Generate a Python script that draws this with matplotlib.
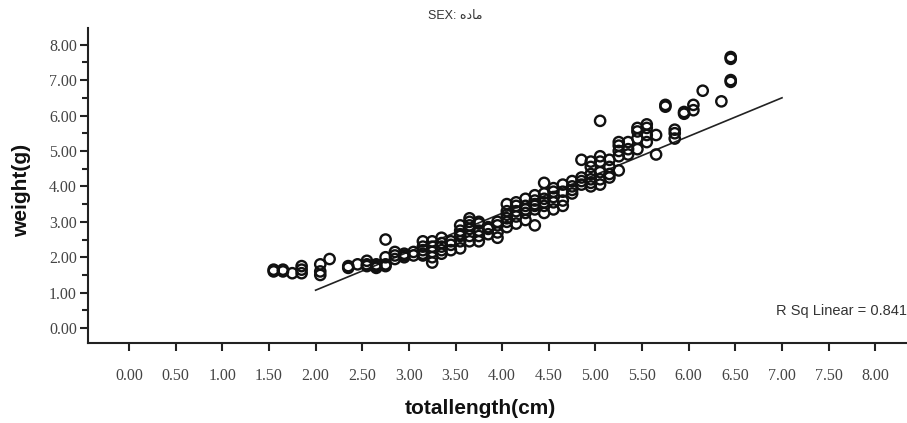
import matplotlib
matplotlib.use("Agg")
import matplotlib.pyplot as plt
import numpy as np

# Scatter data: total length (cm) columns and weights (g)
length_cols = [1.55, 1.65, 1.75, 1.85, 2.05, 2.15, 2.35, 2.45, 2.55, 2.65, 2.75, 2.85, 2.95,
               3.05, 3.15, 3.25, 3.35, 3.45, 3.55, 3.65, 3.75, 3.85, 3.95, 4.05, 4.15, 4.25,
               4.35, 4.45, 4.55, 4.65, 4.75, 4.85, 4.95, 5.05, 5.15, 5.25, 5.35, 5.45, 5.55,
               5.65, 5.75, 5.85, 5.95, 6.05, 6.15, 6.35, 6.45]
weight_cols = [
    [1.60, 1.65], [1.65, 1.60], [1.55], [1.55, 1.65, 1.75], [1.50, 1.60, 1.80], [1.95],
    [1.70, 1.75], [1.80], [1.80, 1.90, 1.75], [1.75, 1.80, 1.70], [2.50, 1.80, 2.00, 1.75],
    [2.05, 2.15, 1.95], [2.05, 2.10, 2.00], [2.05, 2.15], [2.05, 2.45, 2.30, 2.20, 2.10],
    [1.85, 2.00, 2.30, 2.45, 2.15], [2.10, 2.20, 2.30, 2.40, 2.55], [2.35, 2.20, 2.45],
    [2.25, 2.45, 2.60, 2.75, 2.90, 2.65], [2.45, 2.60, 2.80, 3.00, 3.10, 2.90],
    [2.45, 2.60, 2.75, 2.95, 3.00], [2.65, 2.80, 2.85], [2.55, 2.70, 2.90, 3.00],
    [2.85, 3.00, 3.20, 3.30, 3.50, 3.10], [2.95, 3.15, 3.30, 3.45, 3.55],
    [3.05, 3.25, 3.45, 3.35, 3.65], [2.90, 3.35, 3.50, 3.60, 3.75, 3.45],
    [3.25, 3.45, 3.65, 3.80, 4.10, 3.55], [3.35, 3.55, 3.70, 3.85, 3.95],
    [3.45, 3.60, 3.85, 4.05], [3.80, 4.00, 4.15, 3.90], [4.05, 4.25, 4.75, 4.15],
    [4.00, 4.20, 4.35, 4.55, 4.70, 4.10], [4.05, 4.20, 4.40, 4.70, 5.85, 4.85],
    [4.25, 4.35, 4.55, 4.75], [4.45, 4.85, 5.00, 5.15, 5.25], [4.90, 5.05, 5.25],
    [5.05, 5.35, 5.55, 5.65], [5.25, 5.45, 5.65, 5.75], [4.90, 5.45], [6.25, 6.30],
    [5.35, 5.50, 5.60], [6.05, 6.10], [6.15, 6.30], [6.70], [6.40],
    [6.95, 7.00, 7.60, 7.65],
]

# Fit line endpoints
line_x = [2.0, 7.0]
line_y = [1.07, 6.50]
r_sq = "0.841"

x_ticks = [0.0, 0.5, 1.0, 1.5, 2.0, 2.5, 3.0, 3.5, 4.0, 4.5, 5.0, 5.5, 6.0, 6.5, 7.0, 7.5, 8.0]
y_ticks = [0, 1, 2, 3, 4, 5, 6, 7, 8]

xs, ys = [], []
for x, col in zip(length_cols, weight_cols):
    for y in col:
        xs.append(x)
        ys.append(y)

fig = plt.figure(figsize=(9.07, 4.23), dpi=100)
ax = fig.add_axes([88 / 907, 80 / 423, 1 - 88 / 907, (343 - 28) / 423])

ax.scatter(xs, ys, s=55, facecolors="none", edgecolors="#111111", linewidths=1.7, zorder=3)
ax.plot(line_x, line_y, color="#222222", lw=1.2, zorder=2)

ax.set_xlim(-0.44, 8.34)
ax.set_ylim(-0.42, 8.47)
for s in ["top", "right"]:
    ax.spines[s].set_visible(False)
for s in ["left", "bottom"]:
    ax.spines[s].set_linewidth(1.5)
    ax.spines[s].set_color("#222222")

ax.set_xticks(x_ticks)
ax.set_xticklabels([f"{v:.2f}" for v in x_ticks], family="Liberation Serif", fontsize=11.5, color="#444444")
ax.set_yticks(y_ticks)
ax.set_yticklabels([f"{v:.2f}" for v in y_ticks], family="Liberation Serif", fontsize=11.5, color="#444444")
ax.set_yticks(np.arange(0.5, 8.0, 1.0), minor=True)
ax.tick_params(axis="x", direction="out", length=6, width=1.5, pad=12, color="#222222")
ax.tick_params(axis="y", which="major", direction="out", length=6, width=1.5, pad=2, color="#222222")
ax.tick_params(axis="y", which="minor", direction="out", length=4, width=1.5, color="#222222")

ax.set_xlabel("totallength(cm)", family="Liberation Sans", fontweight="bold", fontsize=15, color="#111111")
ax.xaxis.set_label_coords((480 - 88) / (907 - 88), -(408 - 343) / (343 - 28), transform=ax.transAxes)
ax.xaxis.label.set_va("center")
ax.set_ylabel("weight(g)", family="Liberation Sans", fontweight="bold", fontsize=15, color="#111111")
ax.yaxis.set_label_coords(-(88 - 22) / (907 - 88), (343 - 190) / (343 - 28), transform=ax.transAxes)
ax.yaxis.label.set_va("center")

fig.text(455 / 907, 1 - 16 / 423, "SEX: \ufee9\ufea9\ufe8e\ufee3", ha="center", va="center",
         family=["Liberation Sans", "DejaVu Sans"], fontsize=9, color="#333333")
fig.text(776 / 907, 1 - 311 / 423, "R Sq Linear = " + r_sq, ha="left", va="center",
         family="Liberation Sans", fontsize=10.5, color="#333333")

fig.savefig("out.png", dpi=100)
